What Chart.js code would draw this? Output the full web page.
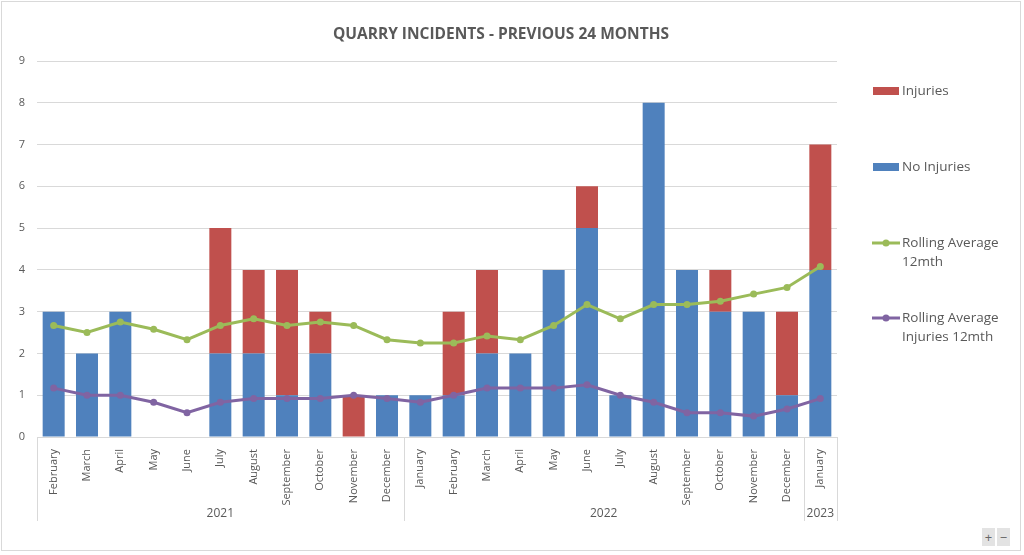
<!DOCTYPE html>
<html>
<head>
<meta charset="utf-8">
<script src="https://cdn.jsdelivr.net/npm/chart.js@4.4.0/dist/chart.umd.min.js"></script>
<style>
  html, body { margin: 0; padding: 0; background: #fff; }
  #wrap { position: absolute; left: 0; top: 0; width: 1024px; height: 555px; }
  .zbtn { position: absolute; top: 528px; width: 13px; height: 18px; background: #e3e3e3; color: #666;
          font: 13px "Open Sans", sans-serif; line-height: 18px; text-align: center; }
</style>
</head>
<body>
<div id="wrap"><canvas id="c" width="1024" height="555"></canvas></div>
<div class="zbtn" style="left:982px">+</div>
<div class="zbtn" style="left:997px">−</div>
<script>
const TITLE = 'QUARRY INCIDENTS - PREVIOUS 24 MONTHS';
const months = ['February','March','April','May','June','July','August','September','October','November','December',
  'January','February','March','April','May','June','July','August','September','October','November','December',
  'January'];
const years = ['2021','2022','2023'];
const yearCounts = [11, 12, 1];
const noInjuries = [3,2,3,0,0,2,2,1,2,0,1, 1,1,2,2,4,5,1,8,4,3,3,1, 4];
const injuries   = [0,0,0,0,0,3,2,3,1,1,0, 0,2,2,0,0,1,0,0,0,1,0,2, 3];
const rollingAvg = [2.67,2.5,2.75,2.58,2.33,2.67,2.83,2.67,2.75,2.67,2.33, 2.25,2.25,2.42,2.33,2.67,3.17,2.83,3.17,3.17,3.25,3.42,3.58, 4.08];
const rollingInj = [1.17,1.0,1.0,0.83,0.58,0.83,0.92,0.92,0.92,1.0,0.92, 0.83,1.0,1.17,1.17,1.17,1.25,1.0,0.83,0.58,0.58,0.5,0.67, 0.92];
const yTicks = [0,1,2,3,4,5,6,7,8,9];

const BLUE = '#4F81BD', RED = '#C0504D', GREEN = '#9BBB59', PURPLE = '#8064A2';
const TXT = '#595959', GRID = '#d9d9d9';

const extras = {
  id: 'extras',
  beforeDraw(chart) {
    const ctx = chart.ctx;
    ctx.save();
    ctx.fillStyle = '#fff';
    ctx.fillRect(0, 0, chart.width, chart.height);
    ctx.strokeStyle = '#d9d9d9';
    ctx.lineWidth = 1;
    ctx.strokeRect(1.5, 1.5, 1019, 549);
    ctx.restore();
  },
  afterDraw(chart) {
    const ctx = chart.ctx;
    const xs = chart.scales.x;
    const ca = chart.chartArea;
    ctx.save();
    // title
    ctx.fillStyle = TXT;
    ctx.font = 'bold 15.5px "Open Sans"';
    ctx.textAlign = 'center';
    ctx.textBaseline = 'middle';
    ctx.fillText(TITLE, 501, 35);
    // year groups
    const step = xs.getPixelForValue(1) - xs.getPixelForValue(0);
    let idx = 0;
    const bounds = [ca.left];
    years.forEach((y, i) => {
      const start = idx, end = idx + yearCounts[i] - 1;
      const x0 = xs.getPixelForValue(start) - step / 2;
      const x1 = xs.getPixelForValue(end) + step / 2;
      bounds.push(x1);
      ctx.fillStyle = TXT;
      ctx.font = '12px "Open Sans"';
      ctx.textAlign = 'center';
      ctx.textBaseline = 'middle';
      ctx.fillText(y, (x0 + x1) / 2, 514);
      idx += yearCounts[i];
    });
    ctx.strokeStyle = GRID;
    ctx.lineWidth = 1;
    bounds.forEach(b => {
      const bx = Math.round(b) + 0.5;
      ctx.beginPath();
      ctx.moveTo(bx, ca.bottom);
      ctx.lineTo(bx, 521);
      ctx.stroke();
    });
    // legend
    const lx = ca.right + 36, tx = ca.right + 65;
    ctx.font = '13.5px "Open Sans"';
    ctx.textAlign = 'left';
    ctx.textBaseline = 'middle';
    const items = [
      { type: 'bar', color: RED, lines: ['Injuries'], y: 91 },
      { type: 'bar', color: BLUE, lines: ['No Injuries'], y: 167 },
      { type: 'line', color: GREEN, lines: ['Rolling Average', '12mth'], y: 243 },
      { type: 'line', color: PURPLE, lines: ['Rolling Average', 'Injuries 12mth'], y: 318 }
    ];
    items.forEach(it => {
      if (it.type === 'bar') {
        ctx.fillStyle = it.color;
        ctx.fillRect(lx, it.y - 4, 26, 8);
      } else {
        ctx.strokeStyle = it.color;
        ctx.lineWidth = 3;
        ctx.beginPath();
        ctx.moveTo(lx - 1, it.y);
        ctx.lineTo(lx + 27, it.y);
        ctx.stroke();
        ctx.fillStyle = it.color;
        ctx.beginPath();
        ctx.arc(lx + 13, it.y, 3.5, 0, Math.PI * 2);
        ctx.fill();
      }
      ctx.fillStyle = TXT;
      it.lines.forEach((t, k) => ctx.fillText(t, tx, it.y + k * 19));
    });
    ctx.restore();
  }
};

new Chart(document.getElementById('c'), {
  data: {
    labels: months,
    datasets: [
      { type: 'line', label: 'Rolling Average 12mth', data: rollingAvg, stack: 'g', order: 0,
        borderColor: GREEN, backgroundColor: GREEN, borderWidth: 3, pointRadius: 3.5, pointBorderWidth: 0,
        pointBackgroundColor: GREEN, tension: 0, fill: false },
      { type: 'line', label: 'Rolling Average Injuries 12mth', data: rollingInj, stack: 'p', order: 0,
        borderColor: PURPLE, backgroundColor: PURPLE, borderWidth: 3, pointRadius: 3.5, pointBorderWidth: 0,
        pointBackgroundColor: PURPLE, tension: 0, fill: false },
      { type: 'bar', label: 'No Injuries', data: noInjuries, stack: 'bars', order: 2,
        backgroundColor: BLUE, categoryPercentage: 1, barPercentage: 0.66 },
      { type: 'bar', label: 'Injuries', data: injuries, stack: 'bars', order: 2,
        backgroundColor: RED, categoryPercentage: 1, barPercentage: 0.66 }
    ]
  },
  options: {
    responsive: false,
    animation: false,
    devicePixelRatio: 1,
    layout: { padding: { top: 61, left: 7, right: 187, bottom: 34 } },
    plugins: { legend: { display: false }, title: { display: false }, tooltip: { enabled: false } },
    scales: {
      x: {
        stacked: true,
        grid: { display: false },
        border: { display: true, color: GRID },
        ticks: { color: TXT, font: { family: 'Open Sans', size: 11 }, maxRotation: 90, minRotation: 90, padding: 4, autoSkip: false },
        afterFit(s) { s.height = 84; }
      },
      y: {
        stacked: true,
        min: 0, max: 9,
        afterBuildTicks(s) { s.ticks = yTicks.map(v => ({ value: v })); },
        grid: { color: GRID, drawTicks: false },
        border: { display: false },
        ticks: { color: TXT, font: { family: 'Open Sans', size: 11 }, padding: 12 },
        afterFit(s) { s.width = 30; }
      }
    }
  },
  plugins: [extras]
});
</script>
</body>
</html>
